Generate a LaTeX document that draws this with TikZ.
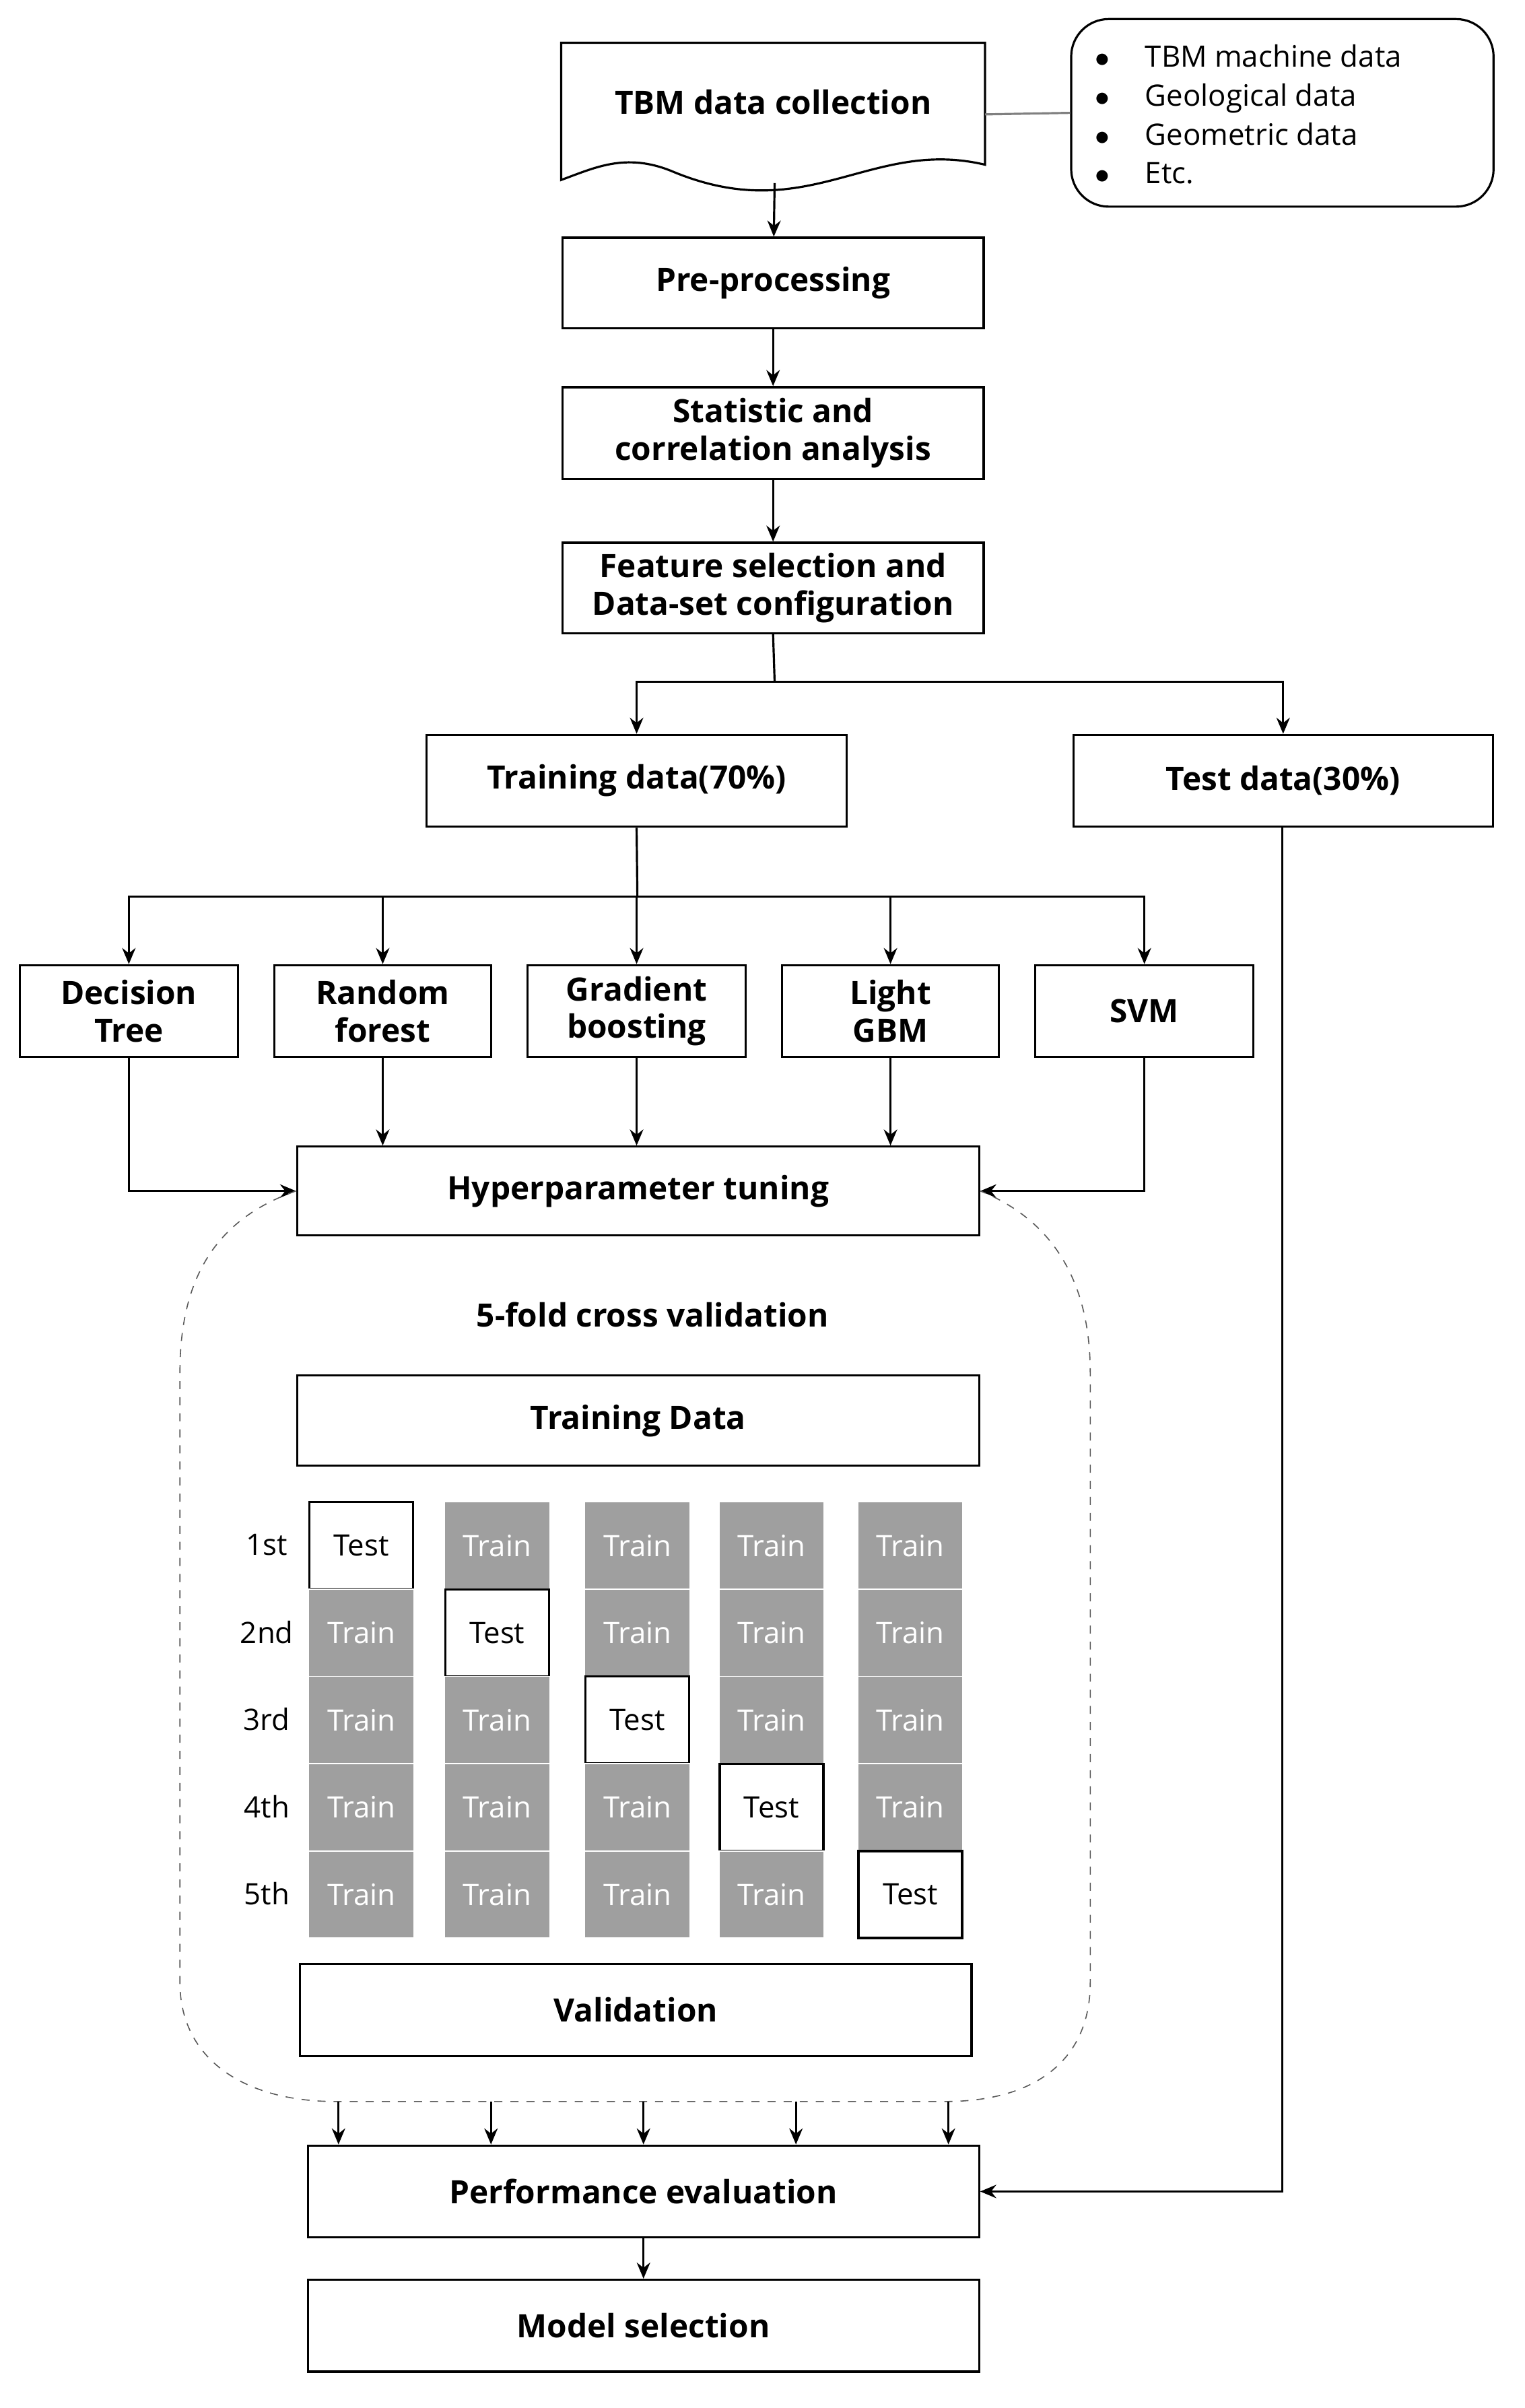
\documentclass[tikz,border=0pt]{standalone}
\usepackage{fontspec}
\setmainfont{Open Sans}
\usetikzlibrary{arrows.meta,calc}
\begin{document}
\begin{tikzpicture}[x=0.02cm,y=-0.02cm,
 box/.style={draw,thick,fill=white,inner sep=0pt,font=\bfseries\fontsize{12}{14}\selectfont,align=center},
 arr/.style={-{Stealth[length=6pt,width=5pt]},thick},
 ln/.style={thick},
 cell/.style={draw=white,fill=gray!75!white,text=white,minimum width=69\pgflinewidth,inner sep=0pt,font=\fontsize{11}{13}\selectfont},
 tcell/.style={draw=black,thick,fill=white,inner sep=0pt,font=\fontsize{11}{13}\selectfont}]
\useasboundingbox (0,0) rectangle (1000,1579);
\newcommand{\bx}[6]{\node[box,minimum width=#4*0.02cm-1pt,minimum height=#5*0.02cm-1pt] (#1) at ({(#2+#4/2)},{(#3+#5/2)}) {#6};}
% document shape
\draw[thick,fill=white] (368,28) -- (646,28) -- (646,108) .. controls (570,90) and (530,150) .. (440,112) .. controls (410,100) and (390,110) .. (368,118) -- cycle;
\node[font=\bfseries\fontsize{12}{14}\selectfont] (col) at (507,67) {TBM data collection};
\coordinate (colR) at (646,75);
\coordinate (colB) at (508,120);
\node[draw,thick,rounded corners=14pt,minimum width=277*0.02cm,minimum height=123*0.02cm,inner sep=0pt] (info) at (841,74) {};
\node[anchor=west,align=left,font=\fontsize{11}{14.5}\selectfont] (infot) at (712,75) {$\bullet$\hspace{1.2em}TBM machine data\\ $\bullet$\hspace{1.2em}Geological data\\ $\bullet$\hspace{1.2em}Geometric data\\ $\bullet$\hspace{1.2em}Etc.};
\draw[gray,thick] (colR) -- (info.west);
\bx{pre}{368}{155}{278}{61}{Pre-processing}
\bx{stat}{368}{253}{278}{62}{Statistic and\\correlation analysis}
\bx{feat}{368}{355}{278}{61}{Feature selection and\\Data-set configuration}
\bx{train}{279}{481}{277}{62}{Training data(70\%)}
\bx{test}{703}{481}{277}{62}{Test data(30\%)}
\bx{dt}{12}{632}{145}{62}{Decision\\Tree}
\bx{rf}{179}{632}{144}{62}{Random\\forest}
\bx{gb}{345}{632}{145}{62}{Gradient\\boosting}
\bx{lg}{512}{632}{144}{62}{Light\\GBM}
\bx{svm}{678}{632}{145}{62}{SVM}
\bx{hyp}{194}{751}{449}{60}{Hyperparameter tuning}
\bx{td}{194}{901}{449}{61}{Training Data}
\bx{val}{196}{1287}{442}{62}{Validation}
\bx{perf}{201}{1406}{442}{62}{Performance evaluation}
\bx{ms}{201}{1494}{442}{62}{Model selection}
\draw[arr] (colB) -- (pre);
\draw[arr] (pre) -- (stat);
\draw[arr] (stat) -- (feat);
\coordinate (sp1) at (508,447);
\draw[ln] (feat.south) -- (sp1);
\draw[arr] (sp1) -| (train.north);
\draw[arr] (sp1) -| (test.north);
\coordinate (sp2) at (418,588);
\draw[ln] (train.south) -- (sp2);
\foreach \n in {dt,rf,gb,lg,svm} \draw[arr] (sp2) -| (\n.north);
\draw[arr] (dt.south) |- (hyp.west);
\draw[arr] (svm.south) |- (hyp.east);
\draw[arr] (rf.south) -- (rf.south|-hyp.north);
\draw[arr] (gb.south) -- (gb.south|-hyp.north);
\draw[arr] (lg.south) -- (lg.south|-hyp.north);
% dashed region
\draw[dashed,gray!70!black] (194,781) .. controls (140,800) and (118,840) .. (118,900) -- (118,1300) .. controls (118,1350) and (160,1378) .. (220,1378) -- (620,1378) .. controls (680,1378) and (715,1350) .. (715,1300) -- (715,900) .. controls (715,840) and (690,800) .. (643,781);
\node[font=\bfseries\fontsize{12}{14}\selectfont] (cv) at (428,862) {5-fold cross validation};
% grid
\def\xs{{203,292,384,472,563}}
\foreach \r/\lab in {0/1st,1/2nd,2/3rd,3/4th,4/5th}{
 \pgfmathsetmacro{\yy}{985+57.2*\r}
 \node[font=\fontsize{11}{13}\selectfont] (lab\r) at (175,\yy+28) {\lab};
 \foreach \c in {0,...,4}{
  \pgfmathsetmacro{\xx}{\xs[\c]}
  \ifnum\r=\c
   \node[tcell,minimum width=68*0.02cm,minimum height=57*0.02cm] (c\r\c) at (\xx+34,\yy+28.5) {Test};
  \else
   \node[cell,minimum width=69*0.02cm,minimum height=57.2*0.02cm] (c\r\c) at (\xx+34,\yy+28.5) {Train};
  \fi
 }}
\foreach \x in {222,322,422,522,622}{
 \coordinate (a\x) at (\x,1378);
 \draw[arr] (a\x) -- (a\x|-perf.north);}
\draw[arr] (test.south-|841,0) |- (perf.east);
\draw[arr] (perf) -- (ms);
\end{tikzpicture}
\end{document}
